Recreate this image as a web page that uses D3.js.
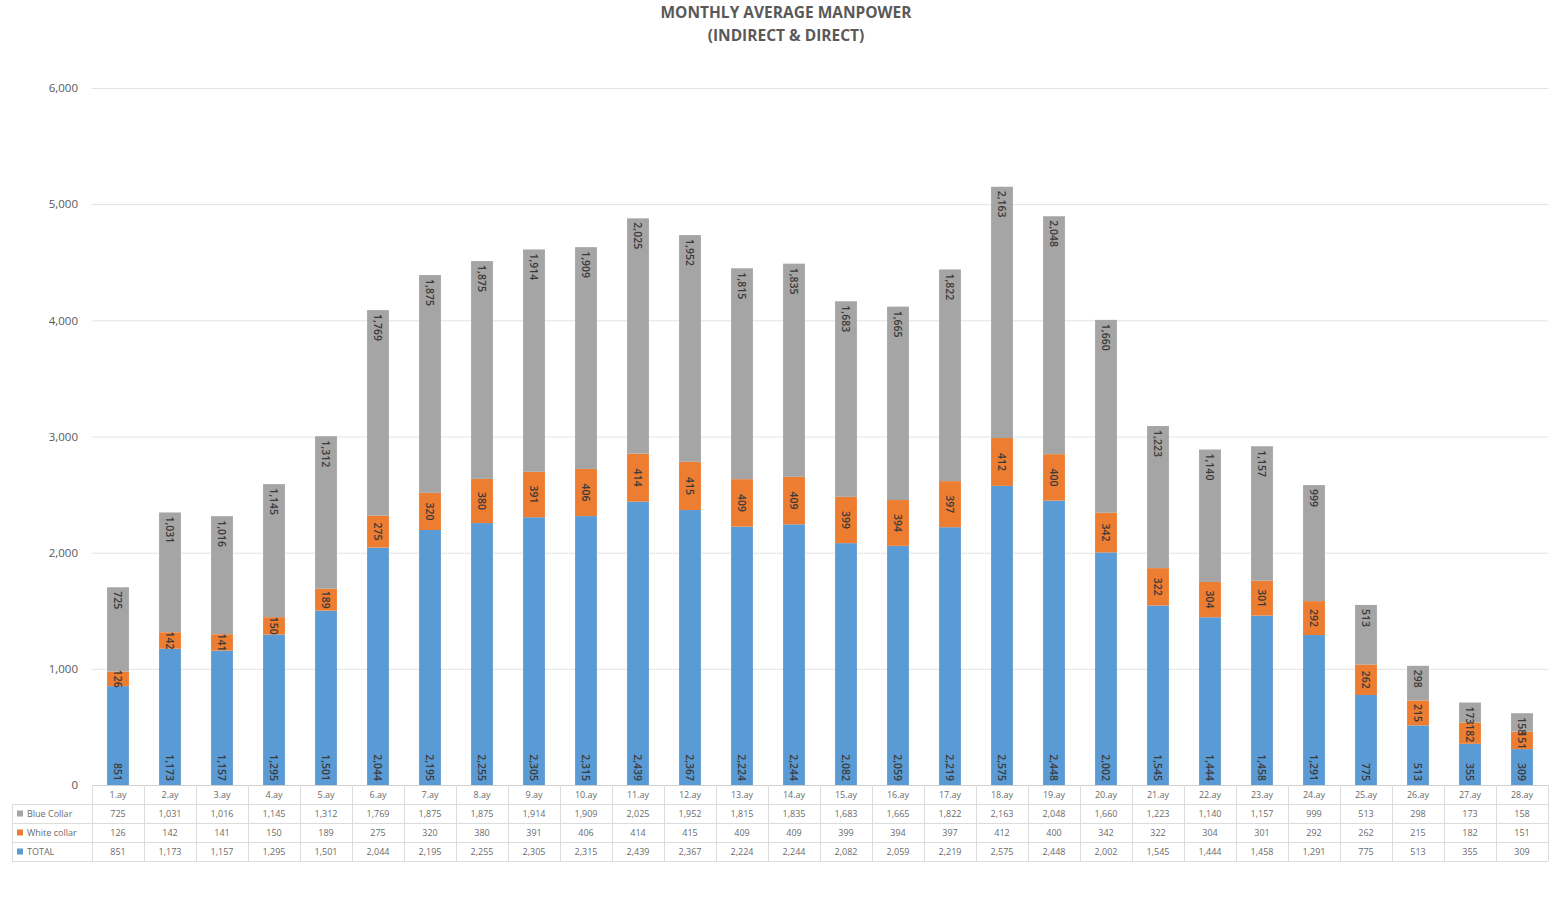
<!DOCTYPE html>
<html>
<head>
<meta charset="utf-8">
<script src="https://cdn.jsdelivr.net/npm/d3@7"></script>
<style>
  html, body { margin: 0; padding: 0; background: #fff; }
  svg { display: block; font-family: "Open Sans", "Noto Sans", sans-serif; }
</style>
</head>
<body>
<svg id="chart" width="1551" height="922"></svg>
<script>
// Months of the project
const categories = ["1.ay","2.ay","3.ay","4.ay","5.ay","6.ay","7.ay","8.ay","9.ay","10.ay",
  "11.ay","12.ay","13.ay","14.ay","15.ay","16.ay","17.ay","18.ay","19.ay","20.ay",
  "21.ay","22.ay","23.ay","24.ay","25.ay","26.ay","27.ay","28.ay"];

// Average headcount per month
const blueCollar  = [725,1031,1016,1145,1312,1769,1875,1875,1914,1909,2025,1952,1815,1835,
  1683,1665,1822,2163,2048,1660,1223,1140,1157,999,513,298,173,158];
const whiteCollar = [126,142,141,150,189,275,320,380,391,406,414,415,409,409,
  399,394,397,412,400,342,322,304,301,292,262,215,182,151];
const totals      = [851,1173,1157,1295,1501,2044,2195,2255,2305,2315,2439,2367,2224,2244,
  2082,2059,2219,2575,2448,2002,1545,1444,1458,1291,775,513,355,309];

const yTicks = [0,1000,2000,3000,4000,5000,6000];

// Series in stacking order (bottom to top)
const series = [
  { key: "total", name: "TOTAL",        values: totals,      color: "#5B9BD5" },
  { key: "white", name: "White collar", values: whiteCollar, color: "#ED7D31" },
  { key: "blue",  name: "Blue Collar",  values: blueCollar,  color: "#A5A5A5" }
];
// Table rows, top to bottom
const tableRows = [series[2], series[1], series[0]];

const svg = d3.select("#chart");
const plotLeft = 92, plotRight = 1548, plotTop = 88, plotBottom = 785;

const x = d3.scaleBand().domain(categories).range([plotLeft, plotRight]).paddingInner(0.58).paddingOuter(0.29);
const y = d3.scaleLinear().domain([0, 6000]).range([plotBottom, plotTop]);

// Title
const title = svg.append("g").attr("fill", "#595959").attr("font-weight", 700)
  .attr("font-size", 15.5).attr("text-anchor", "middle");
title.append("text").attr("x", 786).attr("y", 18).text("MONTHLY AVERAGE MANPOWER");
title.append("text").attr("x", 786).attr("y", 41).text("(INDIRECT & DIRECT)");

// Gridlines and y axis
svg.append("g").selectAll("line").data(yTicks.filter(d => d > 0)).join("line")
  .attr("x1", plotLeft).attr("x2", plotRight)
  .attr("y1", d => y(d) + 0.5).attr("y2", d => y(d) + 0.5)
  .attr("stroke", "#e3e3e3").attr("stroke-width", 1);
const yAxis = d3.axisLeft(y).tickValues(yTicks).tickFormat(d3.format(",")).tickSize(0).tickPadding(14);
const yg = svg.append("g").attr("transform", `translate(${plotLeft},0)`).call(yAxis);
yg.select(".domain").remove();
yg.selectAll("text").attr("fill", "#595959").attr("font-size", 11.5).attr("font-family", "Open Sans, sans-serif");

// Stacked bars
const rows = categories.map((c, i) => ({ cat: c, total: totals[i], white: whiteCollar[i], blue: blueCollar[i] }));
const stacked = d3.stack().keys(series.map(s => s.key))(rows);

const barG = svg.append("g");
stacked.forEach((layer, li) => {
  barG.append("g").attr("fill", series[li].color)
    .selectAll("rect").data(layer).join("rect")
    .attr("x", d => x(d.data.cat))
    .attr("width", x.bandwidth())
    .attr("y", d => y(d[1]))
    .attr("height", d => y(d[0]) - y(d[1]));
});

// Value labels, rotated to read top to bottom
const labelG = svg.append("g").attr("fill", "#3a3a3a").attr("font-size", 10.5).attr("font-weight", 600);
const fmt = d3.format(",");
stacked.forEach((layer, li) => {
  layer.forEach(d => {
    const cx = x(d.data.cat) + x.bandwidth() / 2;
    let py, anchor;
    if (li === 0) { py = y(d[0]) - 4; anchor = "end"; }
    else if (li === 1) { py = (y(d[0]) + y(d[1])) / 2; anchor = "middle"; }
    else { py = y(d[1]) + 4; anchor = "start"; }
    labelG.append("text")
      .attr("transform", `translate(${cx},${py}) rotate(90)`)
      .attr("text-anchor", anchor)
      .attr("dominant-baseline", "central")
      .text(fmt(d.data[series[li].key]));
  });
});

// Data table under the axis
const tableLeft = 12, rowH = 19, headY = plotBottom;
const tg = svg.append("g").attr("font-size", 9).attr("fill", "#6b6b6b");
const gridColor = "#dcdcdc";
const step = x.step();
const colEdges = d3.range(categories.length + 1).map(i => plotLeft + i * step);

// table grid
const lines = svg.append("g").attr("stroke", gridColor).attr("stroke-width", 1);
lines.append("line").attr("x1", plotLeft).attr("x2", plotRight).attr("y1", headY + 0.5).attr("y2", headY + 0.5).attr("stroke", "#d0d0d0");
for (let r = 1; r <= 4; r++) {
  const yy = headY + r * rowH + 0.5;
  lines.append("line").attr("x1", tableLeft).attr("x2", plotRight).attr("y1", yy).attr("y2", yy);
}
colEdges.forEach(cx => {
  lines.append("line").attr("x1", cx + 0.5).attr("x2", cx + 0.5)
    .attr("y1", headY).attr("y2", headY + 4 * rowH);
});
lines.append("line").attr("x1", tableLeft + 0.5).attr("x2", tableLeft + 0.5)
  .attr("y1", headY + rowH).attr("y2", headY + 4 * rowH);

// category header
tg.selectAll("text.cat").data(categories).join("text").attr("class", "cat")
  .attr("x", d => x(d) + x.bandwidth() / 2).attr("y", headY + rowH / 2)
  .attr("text-anchor", "middle").attr("dominant-baseline", "central").text(d => d);

tableRows.forEach((s, r) => {
  const cy = headY + (r + 1) * rowH + rowH / 2;
  tg.append("rect").attr("x", tableLeft + 5).attr("y", cy - 3).attr("width", 6).attr("height", 6).attr("fill", s.color);
  tg.append("text").attr("x", tableLeft + 15).attr("y", cy).attr("dominant-baseline", "central").text(s.name);
  tg.selectAll(null).data(s.values).join("text")
    .attr("x", (d, i) => x(categories[i]) + x.bandwidth() / 2).attr("y", cy)
    .attr("text-anchor", "middle").attr("dominant-baseline", "central")
    .text(d => fmt(d));
});
</script>
</body>
</html>
